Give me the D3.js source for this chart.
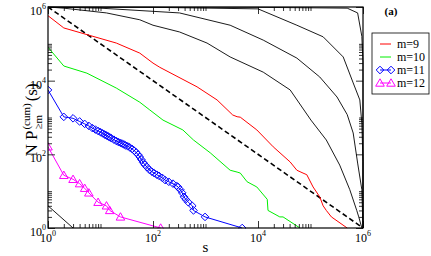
<!DOCTYPE html>
<html>
<head>
<meta charset="utf-8">
<script src="https://cdn.jsdelivr.net/npm/d3@7"></script>
<style>
  body { margin: 0; background: #fff; }
  svg { display: block; }
</style>
</head>
<body>
<svg id="chart"></svg>
<script>
// tick labels (powers of ten shown on both axes)
const majorTicks = [1, 1e2, 1e4, 1e6];
const majorExps = ['0', '2', '4', '6'];

// m = 5..8 (black), cluster size s vs N P_{>=m}(s)
const m5S = [1, 1e4, 5e5, 7.9e5, 9.5e5, 1e6, 1e6];
const m5N = [1e6, 9.8e5, 9.3e5, 6.9e5, 1.6e5, 3.2e4, 1];
const m6S = [1, 100, 1e4, 5.5e4, 1.74e5, 4.2e5, 6.5e5, 8.7e5, 9.5e5, 1e6, 1e6];
const m6N = [1e6, 9.8e5, 8.9e5, 3.2e5, 1.55e5, 4.4e4, 8700, 3000, 700, 63, 1];
const m7S = [1, 10, 320, 2950, 12600, 5.5e4, 1.5e5, 3.2e5, 5e5, 6.5e5, 7.9e5, 9.5e5, 1e6];
const m7N = [1e6, 9.3e5, 6.9e5, 3.2e5, 1.26e5, 4.1e4, 1.26e4, 3600, 1200, 380, 58, 11, 1];
const m8S = [1, 2, 13, 56, 100, 320, 1070, 2950, 12600, 4.1e4, 1.02e5, 2.0e5, 3.6e5, 5.6e5, 7.6e5, 8.3e5, 9.5e5];
const m8N = [1e6, 9.3e5, 6.9e5, 4.5e5, 3.2e5, 2.1e5, 1.05e5, 4.4e4, 1.7e4, 5600, 850, 245, 51, 11, 3, 2, 1];

// m = 9 (red)
const m9S = [1, 2, 20, 56, 100, 135, 690, 1660, 3300, 4000, 4600, 9500, 19500, 4.1e4, 5.5e4, 7.2e4, 8.5e4, 1.12e5, 1.5e5, 1.74e5, 2.0e5, 2.5e5, 5e5];
const m9N = [5.8e5, 2.7e5, 1.05e5, 5.6e4, 3.0e4, 2.3e4, 6800, 3000, 1170, 1050, 1020, 460, 160, 62, 37, 31, 28, 13, 7, 4, 3, 2, 1];

// m = 10 (green)
const m10S = [1, 2, 5.5, 20, 56, 87, 155, 370, 590, 1230, 2950, 4000, 4600, 6200, 9500, 15000, 15500, 26000, 30000, 63000];
const m10N = [8.1e4, 2.5e4, 1.6e4, 6300, 2600, 1600, 850, 460, 245, 110, 37, 33, 31, 18, 13, 6, 3, 2, 2, 1];

// m = 11 (blue diamonds)
const m11S = [1, 2, 3, 4, 5, 6, 7, 8, 9, 10, 11, 12, 13, 14, 15, 16, 18, 20, 22, 24, 26, 28, 30, 33, 36, 40, 44, 48, 52, 56, 60, 65, 70, 77, 85, 95, 105, 118, 130, 150, 170, 200, 240, 280, 300, 330, 360, 390, 420, 470, 560, 590, 980, 5000];
const m11N = [5600, 1040, 950, 780, 670, 590, 515, 470, 430, 400, 370, 345, 325, 305, 290, 275, 250, 230, 215, 205, 195, 185, 175, 165, 155, 140, 125, 112, 98, 85, 72, 60, 52, 45, 38, 34, 31, 28, 26, 23, 20, 18, 16, 14, 13, 11, 9, 7, 6, 5, 4, 3, 2, 1];

// m = 12 (magenta triangles)
const m12S = [1, 2, 3, 4, 5, 6, 9, 13, 15, 24, 140];
const m12N = [160, 27, 21, 16, 12, 9, 5, 4, 3, 2, 1];

// m = 13 (black)
const m13S = [1, 3];
const m13N = [4, 1];

// reference line N = 1e6 / s
const refS = [1, 1e6];
const refN = [1e6, 1];

const legendLabels = ['m=9', 'm=10', 'm=11', 'm=12'];

const svgWidth = 431;
const svgHeight = 256;
const margin = { top: 7, right: 68, bottom: 28, left: 48 };
const width = svgWidth - margin.left - margin.right;
const height = svgHeight - margin.top - margin.bottom;
const serif = '"Liberation Serif", "Times New Roman", serif';

const svg = d3.select('#chart')
  .attr('width', svgWidth)
  .attr('height', svgHeight)
  .attr('font-family', serif);

const g = svg.append('g').attr('transform', `translate(${margin.left},${margin.top})`);

const x = d3.scaleLog().domain([1, 1e6]).range([0, width]);
const y = d3.scaleLog().domain([1, 1e6]).range([height, 0]);

// minor ticks: 2..10 times each labelled power
const minorTicks = [];
[1, 1e2, 1e4].forEach(p => {
  for (let k = 2; k <= 10; k += 1) minorTicks.push(k * p);
});

const zip = (s, n) => s.map((v, i) => [v, n[i]]);
const line = d3.line().x(d => x(d[0])).y(d => y(d[1]));

g.append('defs').append('clipPath').attr('id', 'clip')
  .append('rect').attr('width', width + 1).attr('height', height + 1).attr('y', -0.5);

const plot = g.append('g').attr('clip-path', 'url(#clip)');

// black curves
[[m5S, m5N], [m6S, m6N], [m7S, m7N], [m8S, m8N], [m13S, m13N]].forEach(([s, n]) => {
  plot.append('path')
    .datum(zip(s, n))
    .attr('fill', 'none')
    .attr('stroke', '#000')
    .attr('stroke-width', 0.9)
    .attr('d', line);
});

// dashed reference
plot.append('path')
  .datum(zip(refS, refN))
  .attr('fill', 'none')
  .attr('stroke', '#000')
  .attr('stroke-width', 1.6)
  .attr('stroke-dasharray', '5,3')
  .attr('d', line);

const series = [
  { s: m9S, n: m9N, color: '#ff0000', marker: null },
  { s: m10S, n: m10N, color: '#00ee00', marker: null },
  { s: m11S, n: m11N, color: '#0000ff', marker: 'diamond' },
  { s: m12S, n: m12N, color: '#ff00ff', marker: 'triangle' },
];

const markerPath = {
  diamond: 'M0,-3.8L3.8,0L0,3.8L-3.8,0Z',
  triangle: 'M0,-4.2L4.3,3.2L-4.3,3.2Z',
};

series.forEach(sr => {
  plot.append('path')
    .datum(zip(sr.s, sr.n))
    .attr('fill', 'none')
    .attr('stroke', sr.color)
    .attr('stroke-width', 1)
    .attr('d', line);
  if (sr.marker) {
    plot.append('g')
      .selectAll('path')
      .data(zip(sr.s, sr.n))
      .enter()
      .append('path')
      .attr('transform', d => `translate(${x(d[0])},${y(d[1])})`)
      .attr('d', markerPath[sr.marker])
      .attr('fill', 'none')
      .attr('stroke', sr.color)
      .attr('stroke-width', 1);
  }
});

// axes: ticks inward on all four sides
const noLabel = () => '';
const axisDefs = [
  { axis: d3.axisBottom(x), tr: `translate(0,${height})` },
  { axis: d3.axisTop(x), tr: 'translate(0,0)' },
  { axis: d3.axisLeft(y), tr: 'translate(0,0)' },
  { axis: d3.axisRight(y), tr: `translate(${width},0)` },
];
axisDefs.forEach(a => {
  g.append('g')
    .attr('transform', a.tr)
    .call(a.axis.tickValues(minorTicks).tickSize(-4).tickFormat(noLabel).tickSizeOuter(0))
    .call(sel => sel.select('.domain').remove());
  g.append('g')
    .attr('transform', a.tr)
    .call(a.axis.tickValues(majorTicks).tickSize(-7).tickFormat(noLabel).tickSizeOuter(0))
    .call(sel => sel.select('.domain').remove());
});
g.selectAll('.tick line').attr('stroke', '#000').attr('stroke-width', 0.8);

g.append('rect')
  .attr('width', width)
  .attr('height', height)
  .attr('fill', 'none')
  .attr('stroke', '#000')
  .attr('stroke-width', 1.2);

// tick labels
const xLab = g.append('g');
majorTicks.forEach((v, i) => {
  const t = xLab.append('text')
    .attr('x', x(v))
    .attr('y', height + 14)
    .attr('text-anchor', 'middle')
    .attr('font-size', 12);
  t.append('tspan').text('10');
  t.append('tspan').attr('font-size', 8).attr('dy', -6).text(majorExps[i]);
});
const yLab = g.append('g');
majorTicks.forEach((v, i) => {
  const t = yLab.append('text')
    .attr('x', -2)
    .attr('y', y(v) + 8)
    .attr('text-anchor', 'end')
    .attr('font-size', 12);
  t.append('tspan').text('10');
  t.append('tspan').attr('font-size', 8).attr('dy', -6).text(majorExps[i]);
});

// axis titles
g.append('text')
  .attr('x', width / 2)
  .attr('y', height + 24)
  .attr('text-anchor', 'middle')
  .attr('font-size', 15)
  .text('s');

const yt = svg.append('g');
const base = yt.append('text').attr('font-size', 17).text('N P');
const w1 = base.node().getComputedTextLength();
const sup = yt.append('text').attr('font-size', 11).attr('x', w1 + 1).attr('y', -7).text('(cum)');
const sub = yt.append('text').attr('font-size', 11).attr('x', w1 + 1).attr('y', 5).text('\u2265m');
const w2 = Math.max(sup.node().getComputedTextLength(), sub.node().getComputedTextLength());
const tail = yt.append('text').attr('font-size', 17).attr('x', w1 + w2 + 3).text('(s)');
const total = w1 + w2 + 3 + tail.node().getComputedTextLength();
yt.attr('transform', `translate(37,${120 + total / 2}) rotate(-90)`);

// legend
svg.append('text')
  .attr('x', 391)
  .attr('y', 15)
  .attr('text-anchor', 'middle')
  .attr('font-size', 11)
  .attr('font-weight', 'bold')
  .text('(a)');

const lg = svg.append('g').attr('transform', 'translate(372,33)');
lg.append('rect')
  .attr('width', 57)
  .attr('height', 61)
  .attr('fill', '#fff')
  .attr('stroke', '#000')
  .attr('stroke-width', 0.8);

const rows = lg.selectAll('g.row')
  .data(series)
  .enter()
  .append('g')
  .attr('class', 'row')
  .attr('transform', (d, i) => `translate(0,${11 + 13 * i})`);

rows.append('line')
  .attr('x1', 8).attr('x2', 19)
  .attr('stroke', d => d.color)
  .attr('stroke-width', 1);

rows.filter(d => d.marker)
  .selectAll('path')
  .data(d => [[8, d], [19, d]])
  .enter()
  .append('path')
  .attr('transform', d => `translate(${d[0]},0)`)
  .attr('d', d => markerPath[d[1].marker])
  .attr('fill', 'none')
  .attr('stroke', d => d[1].color);

rows.append('text')
  .attr('x', 25)
  .attr('y', 4)
  .attr('font-size', 12)
  .text((d, i) => legendLabels[i]);
</script>
</body>
</html>
